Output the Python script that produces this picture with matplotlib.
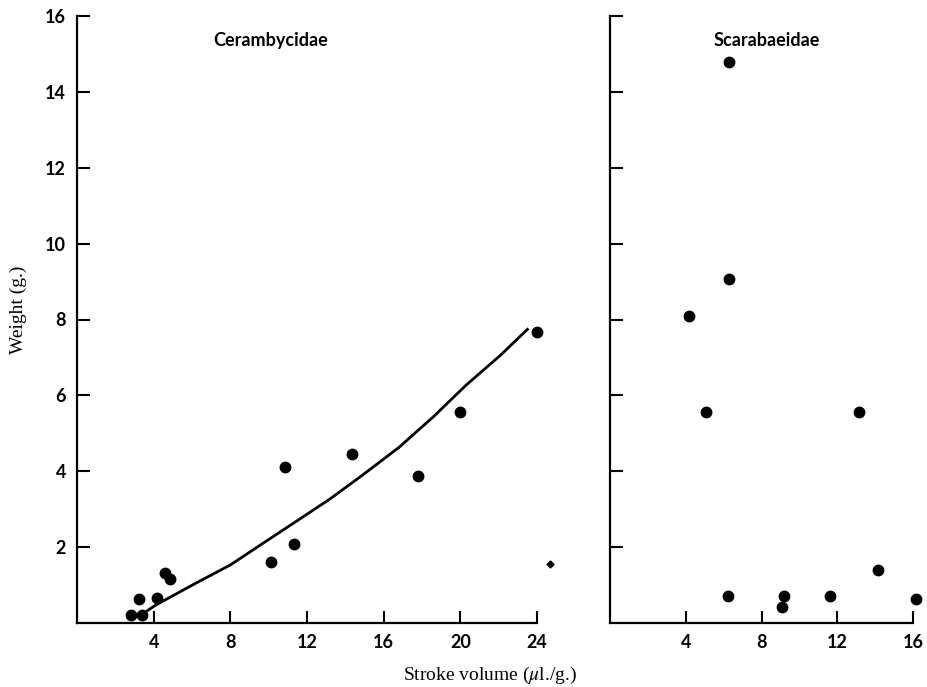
import matplotlib.pyplot as plt

plt.rcParams["mathtext.fontset"] = "stix"

# Cerambycidae points (stroke volume, weight)
ceram_x = [2.8, 3.4, 3.25, 4.15, 4.6, 4.85, 10.1, 11.3, 10.85, 14.35, 17.8, 20.0, 24.0]
ceram_y = [0.2, 0.2, 0.62, 0.67, 1.31, 1.15, 1.6, 2.08, 4.12, 4.45, 3.88, 5.57, 7.66]
# odd small mark just past the axis end
extra_x = [24.7]
extra_y = [1.55]

# fitted curve
curve_x = [3.3, 4.1, 6.2, 8.0, 9.7, 11.5, 13.2, 14.9, 16.8, 18.6, 20.3, 22.1, 23.5]
curve_y = [0.2, 0.47, 1.05, 1.53, 2.1, 2.7, 3.27, 3.9, 4.63, 5.44, 6.27, 7.06, 7.74]

# Scarabaeidae points
scarab_x = [6.28, 6.26, 4.16, 5.05, 13.16, 14.17, 6.23, 9.21, 9.09, 11.63, 16.16]
scarab_y = [14.78, 9.06, 8.08, 5.57, 5.57, 1.39, 0.72, 0.7, 0.42, 0.72, 0.62]

left_xticks = [4, 8, 12, 16, 20, 24]
right_xticks = [4, 8, 12, 16]
yticks = [2, 4, 6, 8, 10, 12, 14, 16]

tick_font = dict(family="Lato", weight="bold", size=13)
serif = "Liberation Serif"

fig = plt.figure(figsize=(9.27, 6.87), dpi=100)
ax1 = fig.add_axes([77 / 927, 1 - 623 / 687, 460 / 927, 607 / 687])
ax2 = fig.add_axes([610 / 927, 1 - 623 / 687, 303 / 927, 607 / 687])

ax1.plot(curve_x, curve_y, color="black", lw=2.0)
ax1.plot(ceram_x, ceram_y, "o", color="black", ms=7.5, clip_on=False)
ax1.plot(extra_x, extra_y, "D", color="black", ms=3.5, clip_on=False)
ax2.plot(scarab_x, scarab_y, "o", color="black", ms=7.5, clip_on=False)

ax1.set_xlim(0, 24)
ax2.set_xlim(0, 16)
for ax in (ax1, ax2):
    ax.set_ylim(0, 16)
    ax.spines["top"].set_visible(False)
    ax.spines["right"].set_visible(False)
    ax.spines["left"].set_linewidth(1.6)
    ax.spines["bottom"].set_linewidth(1.6)
    ax.tick_params(direction="in", length=9, width=1.5, pad=8)
    ax.set_yticks(yticks)

ax1.set_xticks(left_xticks)
ax1.set_xticklabels([str(t) for t in left_xticks], fontdict=tick_font)
ax1.set_yticklabels([str(t) for t in yticks], fontdict=tick_font)
ax2.set_xticks(right_xticks)
ax2.set_xticklabels([str(t) for t in right_xticks], fontdict=tick_font)
ax2.set_yticklabels([])

ax1.text(0.42, 0.96, "Cerambycidae", transform=ax1.transAxes, ha="center",
         va="center", family="Lato", weight="bold", size=13)
ax2.text(0.518, 0.96, "Scarabaeidae", transform=ax2.transAxes, ha="center",
         va="center", family="Lato", weight="bold", size=13)

fig.text(18 / 927, 1 - 310 / 687, "Weight (g.)", rotation=90, ha="center",
         va="center", family=serif, size=14)
fig.text(490 / 927, 1 - 675 / 687, r"Stroke volume ($\mu$l./g.)", ha="center",
         va="center", family=serif, size=14)

fig.savefig("out.png", dpi=100)
